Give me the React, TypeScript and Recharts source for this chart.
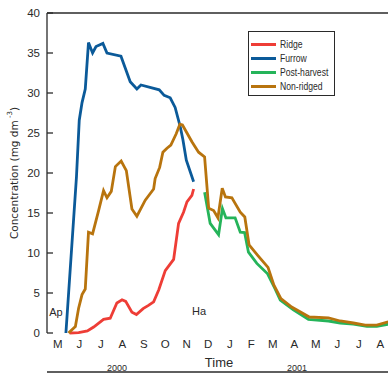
// Nitrate concentration under ridge / furrow / non-ridged plots, May 2000 – Aug 2001

import { Legend, Line, LineChart, ReferenceDot, ReferenceLine, XAxis, YAxis } from "recharts";

const NARROW = "'Liberation Sans', Arial, sans-serif";
const INK = "#2a2a2a";

// x is months since 1 May 2000
const MONTHS = ["M", "J", "J", "A", "S", "O", "N", "D", "J", "F", "M", "A", "M", "J", "J", "A"];
const MONTH_EDGES = [0, 1, 2, 3, 4, 5, 6, 7, 8, 9, 10, 11, 12, 13, 14, 15, 16];
const MONTH_MIDS = [0.5, 1.5, 2.5, 3.5, 4.5, 5.5, 6.5, 7.5, 8.5, 9.5, 10.5, 11.5, 12.5, 13.5, 14.5, 15.5];
const Y_TICKS = [0, 5, 10, 15, 20, 25, 30, 35, 40];

const ridgeT = [1.05, 1.47, 1.88, 2.17, 2.63, 2.94, 3.25, 3.49, 3.66, 3.95, 4.16, 4.47, 4.72, 4.96, 5.2, 5.5, 5.89, 6.12, 6.35, 6.51, 6.74, 6.82];
const ridgeC = [0, 0.05, 0.25, 0.75, 1.7, 1.85, 3.75, 4.15, 3.95, 2.6, 2.3, 3.05, 3.45, 3.9, 5.4, 7.8, 9.2, 13.7, 15.1, 16.4, 17.2, 18.0];

const furrowT = [0.88, 1.37, 1.5, 1.63, 1.78, 1.93, 2.12, 2.28, 2.6, 2.79, 3.44, 3.87, 4.18, 4.37, 5.22, 5.45, 5.73, 5.96, 6.2, 6.32, 6.48, 6.82];
const furrowC = [0, 19.5, 26.6, 28.8, 30.5, 36.3, 35.0, 35.8, 36.2, 35.0, 34.6, 31.4, 30.5, 31.0, 30.4, 29.7, 29.4, 28.2, 25.75, 24.2, 21.6, 18.9];

const postT = [7.33, 7.59, 7.98, 8.16, 8.32, 8.75, 8.99, 9.19, 9.37, 9.76, 10.26, 10.61, 10.85, 11.46, 12.16, 13.09, 13.64, 14.25, 14.88, 15.34, 15.87];
const postC = [17.6, 13.7, 12.3, 15.55, 14.4, 14.4, 12.6, 12.55, 10.1, 8.7, 7.4, 5.5, 4.1, 2.9, 1.7, 1.5, 1.25, 1.1, 0.84, 0.84, 1.1];

const nonT = [1.0, 1.32, 1.47, 1.63, 1.78, 1.93, 2.12, 2.4, 2.63, 2.79, 2.99, 3.18, 3.45, 3.69, 3.95, 4.18, 4.57, 4.96, 5.03, 5.24, 5.39, 5.58, 5.76, 6.01, 6.18, 6.3, 6.74, 7.05, 7.33, 7.52, 7.75, 7.95, 8.15, 8.3, 8.6, 8.75, 8.99, 9.2, 9.4, 9.8, 10.28, 10.55, 10.88, 11.38, 12.2, 13.09, 13.64, 14.25, 14.8, 15.34, 15.87];
const nonC = [0, 0.8, 3.1, 4.8, 5.5, 12.6, 12.4, 15.3, 17.8, 16.9, 17.7, 20.8, 21.5, 20.3, 15.5, 14.6, 16.6, 18.0, 19.3, 20.7, 22.6, 23.1, 23.5, 24.9, 26.1, 26.0, 23.9, 22.6, 22.0, 15.6, 15.3, 14.4, 18.1, 17.0, 16.9, 16.2, 15.1, 14.5, 11.0, 9.7, 8.2, 6.0, 4.3, 3.25, 2.0, 1.9, 1.5, 1.25, 0.98, 0.98, 1.4];

const SERIES = [
  { name: "Ridge", color: "#ee3d36", t: ridgeT, c: ridgeC },
  { name: "Furrow", color: "#0b5a99", t: furrowT, c: furrowC },
  { name: "Post-harvest", color: "#25b45a", t: postT, c: postC },
  { name: "Non-ridged", color: "#b8740e", t: nonT, c: nonC },
];

const pts = (t: number[], c: number[]) => t.map((m, i) => ({ m, c: c[i] }));

function LegendBox() {
  return (
    <div
      style={{
        boxSizing: "border-box",
        width: 87,
        height: 65,
        border: `1.3px solid ${INK}`,
        background: "#fff",
        padding: "5px 2px 0 2px",
      }}
    >
      {SERIES.map((s) => (
        <div key={s.name} style={{ display: "flex", alignItems: "center", height: 14, whiteSpace: "nowrap" }}>
          <span style={{ flex: "none", width: 25, height: 3, background: s.color, marginRight: 4 }} />
          <span
            style={{
              display: "inline-block",
              fontSize: 10.5,
              fontFamily: NARROW,
              color: INK,
              lineHeight: "14px",
              transform: "scaleX(0.82)",
              transformOrigin: "left center",
            }}
          >
            {s.name}
          </span>
        </div>
      ))}
    </div>
  );
}

function YLabel({ viewBox }: any) {
  const cx = viewBox.x + 14;
  const cy = viewBox.y + viewBox.height / 2;
  return (
    <text
      x={cx}
      y={cy}
      transform={`rotate(-90 ${cx} ${cy})`}
      textAnchor="middle"
      dominantBaseline="central"
      fontSize={10.5}
      fontFamily="'DejaVu Sans', sans-serif"
      fill={INK}
    >
      Concentration (mg dm
      <tspan fontSize={7} dy={-4}> -3</tspan>
      <tspan dy={4}>)</tspan>
    </text>
  );
}

const note = (value: string, size: number) => ({
  value,
  position: "center" as const,
  fontSize: size,
  fontFamily: NARROW,
  fill: INK,
});

export default function App() {
  return (
    <div style={{ position: "fixed", left: 0, top: 0, width: 388, height: 373, overflow: "hidden", background: "#fff" }}>
      <LineChart width={400} height={373} margin={{ top: 13, right: 9, bottom: 0, left: 0 }}>
        <XAxis
          xAxisId="m"
          type="number"
          dataKey="m"
          domain={[0, 16]}
          allowDataOverflow
          ticks={MONTH_EDGES}
          interval={0}
          tick={false}
          tickSize={-5}
          height={1}
          stroke={INK}
          strokeWidth={1.3}
        />
        <XAxis
          xAxisId="lbl"
          type="number"
          dataKey="m"
          domain={[0, 16]}
          allowDataOverflow
          ticks={MONTH_MIDS}
          interval={0}
          tickFormatter={(v: number) => MONTHS[Math.floor(v)]}
          tickLine={false}
          axisLine={false}
          tickSize={0}
          tickMargin={7}
          height={39}
          tick={{ fontSize: 11.5, fontFamily: NARROW, fill: INK }}
          label={{ value: "Time", position: "insideBottom", offset: 5, fontSize: 13, fontFamily: NARROW, fill: INK }}
        />
        <YAxis
          type="number"
          domain={[0, 40]}
          ticks={Y_TICKS}
          interval={0}
          width={47}
          tickSize={-6}
          tickMargin={13}
          stroke={INK}
          strokeWidth={1.3}
          tick={{ fontSize: 11.5, fontFamily: NARROW, fill: INK }}
          label={{ content: YLabel }}
        />
        <ReferenceLine xAxisId="m" y={40} stroke={INK} strokeWidth={1.3} />
        {SERIES.map((s) => (
          <Line
            key={s.name}
            xAxisId="m"
            data={pts(s.t, s.c)}
            dataKey="c"
            name={s.name}
            type="linear"
            stroke={s.color}
            strokeWidth={2.8}
            dot={false}
            activeDot={false}
            isAnimationActive={false}
          />
        ))}
        <ReferenceDot xAxisId="m" x={0.42} y={2.56} r={0} ifOverflow="visible" label={note("Ap", 11)} />
        <ReferenceDot xAxisId="m" x={7.07} y={2.7} r={0} ifOverflow="visible" label={note("Ha", 11)} />
        <ReferenceDot xAxisId="m" x={3.26} y={-4.4} r={0} ifOverflow="visible" label={note("2000", 9)} />
        <ReferenceDot xAxisId="m" x={11.63} y={-4.4} r={0} ifOverflow="visible" label={note("2001", 9)} />
        <Legend
          layout="vertical"
          align="center"
          verticalAlign="middle"
          content={() => <LegendBox />}
          wrapperStyle={{ left: 248, top: 31, width: 87, height: 65 }}
        />
      </LineChart>
    </div>
  );
}
